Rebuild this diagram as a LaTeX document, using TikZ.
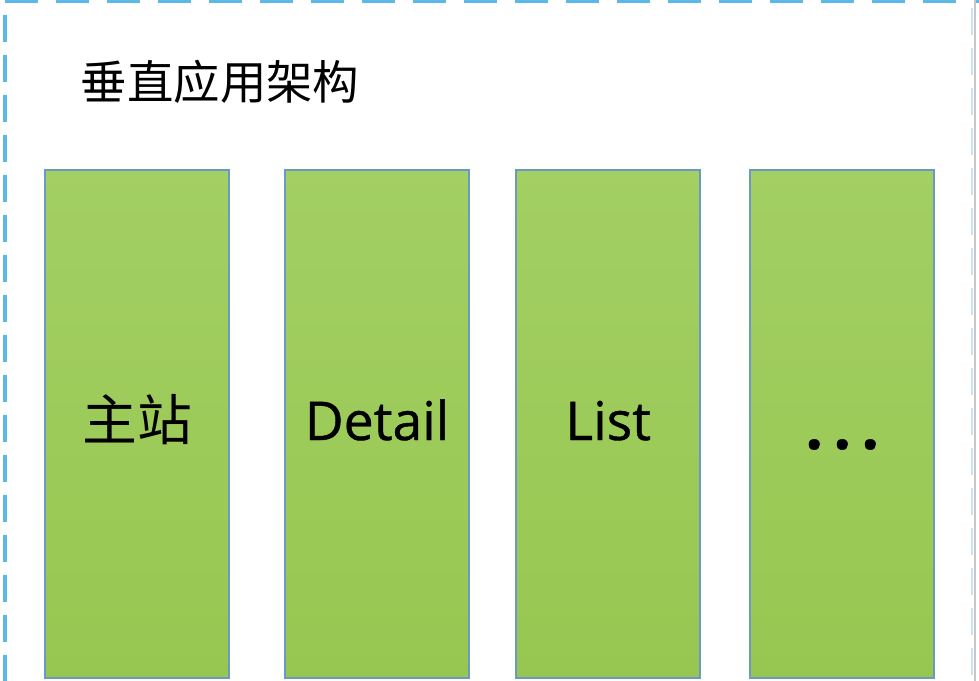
\documentclass[tikz,border=0pt]{standalone}
\usepackage{fontspec}
\usepackage{xcolor}
\usepackage{tikz}
\usetikzlibrary{positioning}
\setmainfont{Open Sans}
\newfontfamily\labelfont[FakeBold=0.8]{Open Sans}
\newfontfamily\cjk{Noto Sans CJK SC}
\definecolor{boxtop}{HTML}{A3CF63}
\definecolor{boxbottom}{HTML}{97C751}
\definecolor{boxedge}{HTML}{6A9AC4}
\definecolor{frameblue}{HTML}{5CB8E9}

\begin{document}
\begin{tikzpicture}[x=0.025cm,y=-0.025cm,
  appbox/.style={draw=boxedge,line width=1.4pt,top color=boxtop,bottom color=boxbottom,
    minimum width=4.6cm,minimum height=12.7cm,inner sep=0pt,
    text height=0.9cm,text depth=0.1cm,font=\labelfont\fontsize{38}{40}\selectfont},
  framedash/.style={frameblue,line width=0.1cm}]
\useasboundingbox (0,0) rectangle (979,681);
\fill[white] (0,0) rectangle (979,681);
% dashed outer frame
\draw[framedash,dash pattern=on 0.825cm off 0.45cm] (5,1.5) -- (979,1.5);
\draw[framedash,dash pattern=on 0.675cm off 0.325cm] (5,15) -- (5,681);
\draw[frameblue!35,line width=0.04cm,dash pattern=on 0.675cm off 0.325cm] (972,8) -- (972,681);
\draw[black!22,line width=1.2pt] (975,0) -- (975,681);
% title
\node[anchor=west,font=\cjk\fontsize{33}{36}\selectfont] (title) at (76,82) {垂直应用架构};
% applications
\node[appbox] (main) at (137,424) {\cjk\fontsize{39}{40}\selectfont 主站};
\node[appbox,right=1.35cm of main] (detail) {Detail};
\node[appbox,right=1.13cm of detail] (list) {List};
\node[appbox,right=1.2cm of list] (more) {\raisebox{-0.22cm}{\bfseries\fontsize{44}{44}\selectfont .\hspace{0.26cm}.\hspace{0.26cm}.}};
\end{tikzpicture}
\end{document}
